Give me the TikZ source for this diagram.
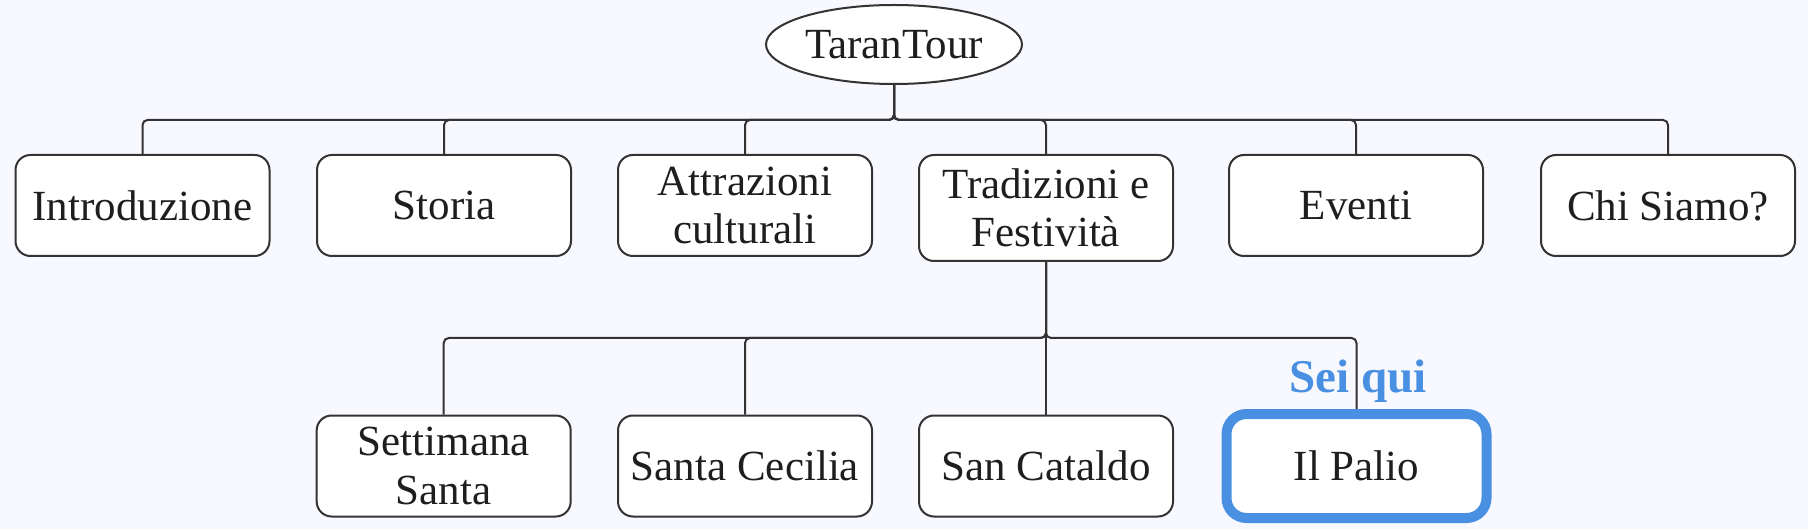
\documentclass[tikz,border=0pt]{standalone}
\usepackage{fontspec}
\setmainfont{Liberation Serif}
\usetikzlibrary{shapes.geometric,backgrounds}
\definecolor{bg}{RGB}{248,248,255}
\definecolor{ln}{RGB}{51,51,51}
\definecolor{hl}{RGB}{74,144,226}
\definecolor{tx}{RGB}{30,30,30}
\begin{document}
\begin{tikzpicture}[x=1pt,y=-1pt,
  box/.style={draw=ln,line width=2pt,fill=white,rounded corners=15pt,
    minimum width=254pt,minimum height=101pt,inner sep=0pt,align=center,
    font=\fontsize{43}{48.4}\selectfont,text=tx},
  rootnode/.style={ellipse,draw=ln,line width=2pt,fill=white,
    minimum width=256pt,minimum height=79pt,inner sep=0pt,
    font=\fontsize{43}{48.4}\selectfont,text=tx},
  here/.style={box,draw=hl,line width=10pt,rounded corners=20pt,
    minimum width=260pt,minimum height=104pt},
  conn/.style={draw=ln,line width=2pt,rounded corners=5pt},
  tag/.style={font=\bfseries\fontsize{47}{50}\selectfont,text=hl,inner sep=0pt}]
\useasboundingbox (0,0) rectangle (1808,529);

\node[rootnode] (root) at (894,44.5) {TaranTour};

\node[box] (intro) at (142.5,205.5) {Introduzione};
\node[box] (storia) at (444,205.5) {Storia};
\node[box] (attr) at (745,205.5) {Attrazioni\\culturali};
\node[box,minimum height=106pt] (trad) at (1046,208) {Tradizioni e\\Festività};
\node[box] (eventi) at (1356,205.5) {Eventi};
\node[box] (chi) at (1668,205.5) {Chi Siamo?};

\node[box] (sett) at (443.7,466) {Settimana\\Santa};
\node[box] (cecilia) at (745,466) {Santa Cecilia};
\node[box] (cataldo) at (1046,466) {San Cataldo};
\node[here] (palio) at (1356.5,466) {Il Palio};

\node[tag,anchor=base] (sei) at (1358,392) {Sei qui};

\coordinate (bus1) at (894,120);
\coordinate (bus2) at (1046,338);

\begin{scope}[on background layer]
  \fill[bg] (0,0) rectangle (1808,529);
  \draw[conn] (root.south) |- (intro.north |- bus1) -- (intro.north);
  \draw[conn] (root.south) |- (storia.north |- bus1) -- (storia.north);
  \draw[conn] (root.south) |- (attr.north |- bus1) -- (attr.north);
  \draw[conn] (root.south) |- (trad.north |- bus1) -- (trad.north);
  \draw[conn] (root.south) |- (eventi.north |- bus1) -- (eventi.north);
  \draw[conn] (root.south) |- (chi.north |- bus1) -- (chi.north);
  \draw[conn] (trad.south) |- (sett.north |- bus2) -- (sett.north);
  \draw[conn] (trad.south) |- (cecilia.north |- bus2) -- (cecilia.north);
  \draw[conn] (trad.south) -- (cataldo.north);
  \draw[conn] (trad.south) |- (palio.north |- bus2) -- (palio.north);
\end{scope}
\end{tikzpicture}
\end{document}
